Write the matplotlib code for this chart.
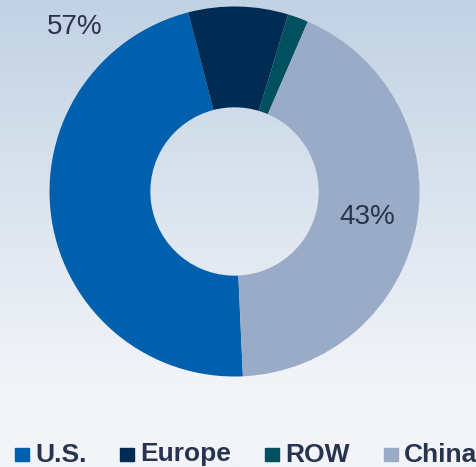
import numpy as np
import matplotlib
matplotlib.use("Agg")
import matplotlib.pyplot as plt
from matplotlib.patches import Rectangle
from matplotlib.colors import LinearSegmentedColormap

regions = ["U.S.", "Europe", "ROW", "China"]
shares = [46.7, 8.7, 1.8, 42.8]
colors = ["#0060ad", "#002b53", "#00505f", "#9aabc8"]
share_labels = ["57%", "43%"]

plt.rcParams['font.family'] = ['Liberation Sans', 'DejaVu Sans']
text_color = "#283350"

fig = plt.figure(figsize=(4.77, 4.67), dpi=100)

# gradient background
bg = fig.add_axes([0, 0, 1, 1])
cmap = LinearSegmentedColormap.from_list("bg", [(0, "#c1d2e3"), (0.82, "#f2f4f8"), (1, "#f2f4f8")])
grad = np.linspace(0, 1, 256).reshape(-1, 1)
bg.imshow(grad, aspect="auto", cmap=cmap, extent=[0, 1, 0, 1], origin="upper")
bg.set_xlim(0, 1)
bg.set_ylim(0, 1)
bg.axis("off")

# donut
ax = fig.add_axes([0.1038, 0.1938, 0.7757, 0.7923])
ax.pie(shares, colors=colors, startangle=-87.4, counterclock=False,
       radius=1, wedgeprops=dict(width=0.545, edgecolor="none"))
ax.set_xlim(-1, 1)
ax.set_ylim(-1, 1)
ax.set_aspect("equal")
ax.axis("off")

ax.text(-0.862, 0.889, share_labels[0], fontsize=20, color=text_color,
        ha="center", va="center")
ax.text(0.716, -0.138, share_labels[1], fontsize=20, color=text_color,
        ha="center", va="center")

# legend
sq_x = [15, 120, 265, 384]
for name, col, x in zip(regions, colors, sq_x):
    fig.patches.append(Rectangle((x / 477, (467 - 461) / 467), 14 / 477, 13 / 467,
                                 transform=fig.transFigure, color=col))
    fig.text((x + 20) / 477, (467 - 454.5) / 467, name, fontsize=19,
             fontweight="bold", color=text_color, ha="left", va="center")

fig.savefig("out.png", dpi=100)
